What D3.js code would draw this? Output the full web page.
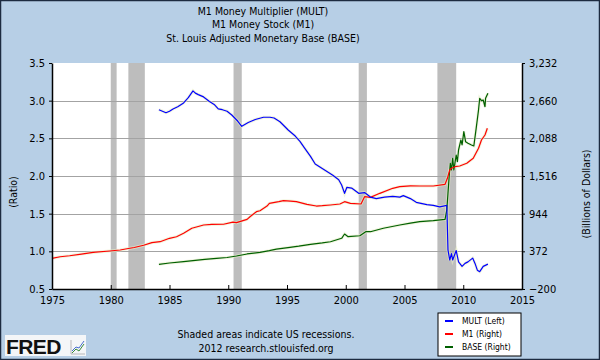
<!DOCTYPE html>
<html>
<head>
<meta charset="utf-8">
<script src="https://cdn.jsdelivr.net/npm/d3@7"></script>
<style>
  body { margin: 0; }
  svg { display: block; overflow: visible; font-family: "DejaVu Sans Condensed", "DejaVu Sans", Verdana, sans-serif; }
</style>
</head>
<body>
<svg width="600" height="360"></svg>
<script>
const titleLines = ['M1 Money Multiplier (MULT)', 'M1 Money Stock (M1)', 'St. Louis Adjusted Monetary Base (BASE)'];
const xTicks = [1975, 1980, 1985, 1990, 1995, 2000, 2005, 2010, 2015];
const leftTicks = [0.5, 1.0, 1.5, 2.0, 2.5, 3.0, 3.5];
const rightTicks = [-200, 372, 944, 1516, 2088, 2660, 3232];
const recessions = [[1980.0, 1980.5], [1981.5, 1982.9], [1990.45, 1991.15], [2001.1, 2001.8], [2007.8, 2009.4]];
const legendLabels = ['MULT (Left)', 'M1 (Right)', 'BASE (Right)'];

// [decimal year, ratio]
const multSeries = [
  [1984.1, 2.88], [1984.4, 2.86], [1984.7, 2.84], [1985.0, 2.86], [1985.3, 2.89], [1985.7, 2.92],
  [1986.2, 2.97], [1986.6, 3.04], [1987.0, 3.13], [1987.2, 3.10], [1987.45, 3.08], [1987.9, 3.05],
  [1988.4, 2.99], [1988.8, 2.95], [1989.15, 2.89], [1989.5, 2.88], [1989.9, 2.86], [1990.3, 2.81],
  [1990.8, 2.73], [1991.15, 2.66], [1991.7, 2.71], [1992.3, 2.75], [1993.0, 2.78], [1993.55, 2.78],
  [1993.9, 2.77], [1994.4, 2.72], [1995.1, 2.61], [1995.7, 2.53], [1996.1, 2.46], [1996.5, 2.37],
  [1997.0, 2.26], [1997.4, 2.16], [1997.8, 2.12], [1998.4, 2.06], [1998.9, 2.01], [1999.4, 1.95],
  [1999.65, 1.88], [1999.9, 1.77], [2000.1, 1.85], [2000.5, 1.84], [2001.1, 1.77], [2001.6, 1.78],
  [2002.1, 1.72], [2002.6, 1.70], [2003.3, 1.72], [2004.0, 1.73], [2004.6, 1.72], [2004.9, 1.74],
  [2005.5, 1.70], [2006.0, 1.65], [2006.3, 1.64], [2006.9, 1.62], [2007.45, 1.61], [2008.0, 1.59],
  [2008.6, 1.61], [2008.7, 1.02], [2008.85, 0.885], [2009.0, 0.97], [2009.1, 0.885], [2009.4, 1.01],
  [2009.6, 0.86], [2009.9, 0.80], [2010.15, 0.84], [2010.4, 0.86], [2010.8, 0.91], [2011.0, 0.84],
  [2011.2, 0.75], [2011.4, 0.73], [2011.7, 0.80], [2012.1, 0.83]
];

// [decimal year, billions of dollars]
const m1Series = [
  [1975.0, 266], [1975.7, 290], [1976.5, 305], [1977.5, 330], [1978.5, 355], [1979.9, 377],
  [1980.8, 392], [1981.5, 415], [1982.0, 430], [1982.8, 465], [1983.5, 505], [1984.2, 518],
  [1985.0, 570], [1985.6, 594], [1986.2, 646], [1986.9, 722], [1987.6, 757], [1987.9, 772],
  [1988.6, 780], [1989.6, 783], [1990.4, 815], [1990.7, 807], [1991.6, 858], [1991.85, 898],
  [1992.4, 974], [1992.7, 989], [1993.3, 1060], [1993.5, 1101], [1994.3, 1126], [1994.7, 1141],
  [1995.3, 1135], [1995.8, 1126], [1996.7, 1086], [1997.5, 1060], [1998.0, 1065], [1998.7, 1076],
  [1999.5, 1091], [1999.9, 1126], [2000.4, 1101], [2001.3, 1091], [2001.6, 1202], [2002.1, 1192],
  [2002.9, 1253], [2004.0, 1329], [2004.6, 1354], [2005.5, 1365], [2006.3, 1364], [2007.45, 1364],
  [2008.45, 1390], [2008.65, 1481], [2008.85, 1607], [2009.0, 1633], [2009.3, 1657], [2009.7, 1668],
  [2010.3, 1709], [2010.85, 1785], [2011.3, 1937], [2011.55, 2063], [2011.85, 2139], [2012.05, 2240]
];

// [decimal year, billions of dollars]
const baseSeries = [
  [1984.1, 175], [1985.0, 195], [1986.2, 215], [1987.0, 230], [1988.0, 250], [1989.0, 266],
  [1989.9, 278], [1990.7, 301], [1991.6, 332], [1992.7, 355], [1993.5, 382], [1994.1, 405],
  [1995.25, 433], [1996.0, 450], [1997.0, 479], [1998.0, 500], [1998.7, 518], [1999.65, 570],
  [1999.9, 635], [2000.2, 594], [2001.2, 609], [2001.7, 670], [2002.1, 670], [2003.2, 722],
  [2004.6, 772], [2005.5, 800], [2006.3, 822], [2007.45, 837], [2008.45, 858], [2008.6, 1000],
  [2008.7, 1253], [2008.8, 1505], [2008.9, 1709], [2009.0, 1607], [2009.1, 1785], [2009.2, 1607],
  [2009.4, 1835], [2009.5, 1733], [2009.6, 1911], [2009.8, 2063], [2009.9, 1987], [2010.05, 2189],
  [2010.2, 2037], [2010.4, 2013], [2010.7, 1987], [2010.9, 1972], [2011.1, 2240], [2011.3, 2518],
  [2011.4, 2696], [2011.55, 2660], [2011.7, 2670], [2011.85, 2568], [2011.9, 2696], [2012.1, 2772]
];

const svg = d3.select('svg');
const width = +svg.attr('width');
const height = +svg.attr('height');
const margin = { top: 63, right: 78, bottom: 71, left: 52 };
const innerWidth = width - margin.left - margin.right;
const innerHeight = height - margin.top - margin.bottom;

// page background + border
svg.append('rect')
    .attr('x', 0.5).attr('y', 0.5)
    .attr('width', width - 1).attr('height', height - 1)
    .attr('fill', '#b7cfe6')
    .attr('stroke', '#1d2b40')
    .attr('stroke-width', 1.5);

const x = d3.scaleLinear().domain([1975, 2015]).range([0, innerWidth]);
const yLeft = d3.scaleLinear().domain([0.5, 3.5]).range([innerHeight, 0]);
const yRight = d3.scaleLinear().domain([-200, 3232]).range([innerHeight, 0]);

const g = svg.append('g')
    .attr('transform', `translate(${margin.left},${margin.top})`);

g.append('rect')
    .attr('width', innerWidth)
    .attr('height', innerHeight)
    .attr('fill', '#ffffff');

// recession bars
g.selectAll('.rec').data(recessions)
  .enter().append('rect')
    .attr('class', 'rec')
    .attr('x', d => x(d[0]))
    .attr('width', d => x(d[1]) - x(d[0]))
    .attr('y', 0)
    .attr('height', innerHeight)
    .attr('fill', '#bdbdbd');

// grid lines
g.append('g')
    .selectAll('line').data(leftTicks.slice(1, -1))
  .enter().append('line')
    .attr('x1', 0).attr('x2', innerWidth)
    .attr('y1', d => Math.round(yLeft(d)) + 0.5)
    .attr('y2', d => Math.round(yLeft(d)) + 0.5)
    .attr('stroke', '#a3a3a3');

// lines
const lineL = d3.line().x(d => x(d[0])).y(d => yLeft(d[1]));
const lineR = d3.line().x(d => x(d[0])).y(d => yRight(d[1]));

const series = [
  { data: multSeries, line: lineL, color: '#0000ff' },
  { data: m1Series, line: lineR, color: '#ff0000' },
  { data: baseSeries, line: lineR, color: '#006000' }
];

series.forEach(s => {
  g.append('path')
      .attr('d', s.line(s.data))
      .attr('fill', 'none')
      .attr('stroke', '#e8ecc8')
      .attr('stroke-width', 3)
      .attr('opacity', 0.6);
});
[series[2], series[1], series[0]].forEach(s => {
  g.append('path')
      .attr('d', s.line(s.data))
      .attr('fill', 'none')
      .attr('stroke', s.color)
      .attr('stroke-width', 1.2)
      .attr('stroke-linejoin', 'round');
});

// axes
const axisStyle = sel => {
  sel.attr('font-family', null).attr('font-size', null);
  sel.select('.domain').attr('stroke', '#000').attr('stroke-width', 1.5);
  sel.selectAll('.tick line').attr('stroke', '#000');
  sel.selectAll('.tick text')
      .attr('fill', '#000')
      .style('font-size', '11px');
};

g.append('g')
    .call(d3.axisLeft(yLeft).tickValues(leftTicks).tickFormat(d3.format('.1f')).tickSize(3).tickSizeOuter(0).tickPadding(4))
    .call(axisStyle);

g.append('g')
    .attr('transform', `translate(${innerWidth},0)`)
    .call(d3.axisRight(yRight).tickValues(rightTicks).tickFormat(d3.format(',')).tickSize(3).tickSizeOuter(0).tickPadding(4))
    .call(axisStyle);

const xAxisG = g.append('g')
    .attr('transform', `translate(0,${innerHeight})`)
    .call(d3.axisBottom(x).tickValues(xTicks).tickFormat(d3.format('d')).tickSize(-4).tickSizeOuter(0).tickPadding(6))
    .call(axisStyle);
xAxisG.selectAll('.tick text').attr('dy', '0.8em');

// axis titles
const midY = margin.top + innerHeight / 2;
svg.append('text')
    .attr('x', 17).attr('y', midY + 16)
    .attr('transform', `rotate(-90,17,${midY + 16})`)
    .attr('text-anchor', 'middle')
    .style('font-size', '10.5px')
    .text('(Ratio)');

svg.append('text')
    .attr('x', 590).attr('y', midY + 18)
    .attr('transform', `rotate(-90,590,${midY + 18})`)
    .attr('text-anchor', 'middle')
    .style('font-size', '10.5px')
    .text('(Billions of Dollars)');

// title
svg.selectAll('.title').data(titleLines)
  .enter().append('text')
    .attr('class', 'title')
    .attr('x', 263)
    .attr('y', (d, i) => 15 + i * 13.3)
    .attr('text-anchor', 'middle')
    .style('font-size', '10.5px')
    .text(d => d);

// footer
svg.append('text')
    .attr('x', 266).attr('y', 338)
    .attr('text-anchor', 'middle')
    .style('font-size', '10.5px')
    .text('Shaded areas indicate US recessions.');
svg.append('text')
    .attr('x', 266).attr('y', 352)
    .attr('text-anchor', 'middle')
    .style('font-size', '10.5px')
    .text('2012 research.stlouisfed.org');

// legend
const legend = svg.append('g').attr('transform', 'translate(438,313)');
legend.append('rect')
    .attr('width', 83).attr('height', 43)
    .attr('fill', '#fff')
    .attr('stroke', '#000');
legend.selectAll('line').data(series)
  .enter().append('line')
    .attr('x1', 7).attr('x2', 15)
    .attr('y1', (d, i) => 8 + i * 13)
    .attr('y2', (d, i) => 8 + i * 13)
    .attr('stroke', d => d.color)
    .attr('stroke-width', 2);
legend.selectAll('text').data(legendLabels)
  .enter().append('text')
    .attr('x', 24)
    .attr('y', (d, i) => 11 + i * 13)
    .style('font-size', '8.5px')
    .text(d => d);

// FRED logo
const logo = svg.append('g').attr('transform', 'translate(5,335)');
logo.append('rect').attr('width', 81).attr('height', 21).attr('fill', '#f4f6f8');
logo.append('text')
    .attr('x', 1).attr('y', 18.5)
    .style('font-size', '21px')
    .style('font-weight', 'bold')
    .style('font-family', '"Liberation Sans", Arial, sans-serif')
    .style('letter-spacing', '-0.6px')
    .attr('fill', '#111')
    .text('FRED');
logo.append('path')
    .attr('d', 'M67,18 L71,14 L74,16 L79,9')
    .attr('fill', 'none').attr('stroke', '#3a8a3a').attr('stroke-width', 1);
logo.append('path')
    .attr('d', 'M67,16 L71,12 L74,13 L79,6')
    .attr('fill', 'none').attr('stroke', '#4a6fd0').attr('stroke-width', 1);
logo.append('path')
    .attr('d', 'M66,5 L66,19 L80,19')
    .attr('fill', 'none').attr('stroke', '#aaa').attr('stroke-width', 0.8);
</script>
</body>
</html>
